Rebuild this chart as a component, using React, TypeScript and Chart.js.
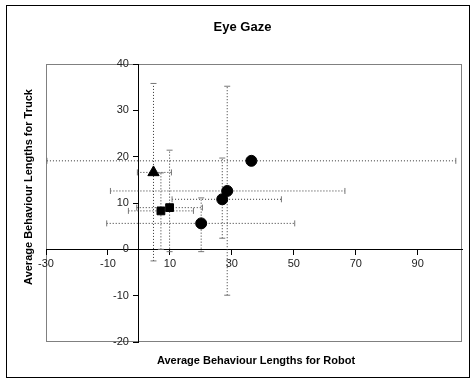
import { useEffect, useRef } from "react";
import { Chart, registerables } from "chart.js";

Chart.register(...registerables);

const chartTitle = "Eye Gaze";
const xAxisTitle = "Average Behaviour Lengths for Robot";
const yAxisTitle = "Average Behaviour Lengths for Truck";

const xTickValues = [-30, -10, 10, 30, 50, 70, 90];
const yTickValues = [-20, -10, 0, 10, 20, 30, 40];

// Series 1: circles
const circleX = [20.1, 26.9, 28.5, 36.3];
const circleY = [5.6, 10.8, 12.6, 19.1];
const circleXLow = [-10.4, 10.7, -9.2, -29.7];
const circleXHigh = [50.3, 46.0, 66.5, 102.3];
const circleYLow = [-0.5, 2.4, -9.9, 19.1];
const circleYHigh = [11.1, 19.7, 35.2, 19.1];

// Series 2: squares
const squareX = [7.1, 9.9];
const squareY = [8.3, 9.0];
const squareXLow = [-3.4, -0.7];
const squareXHigh = [17.6, 20.5];
const squareYLow = [0.0, -0.5];
const squareYHigh = [16.5, 21.4];

// Series 3: triangle
const triangleX = [4.7];
const triangleY = [16.6];
const triangleXLow = [-0.5];
const triangleXHigh = [10.5];
const triangleYLow = [-2.5];
const triangleYHigh = [35.8];

const FONT = '"Liberation Sans", Arial, sans-serif';

function errorBarDatasets(
  xs: number[], ys: number[],
  xl: number[], xh: number[], yl: number[], yh: number[]
) {
  const out: any[] = [];
  xs.forEach((x, i) => {
    const y = ys[i];
    if (xh[i] !== xl[i]) {
      out.push({
        data: [{ x: xl[i], y }, { x: xh[i], y }],
        showLine: true,
        borderColor: "#333",
        borderWidth: 1,
        borderDash: [1, 2],
        pointStyle: "line",
        pointRadius: 3,
        pointRotation: 90,
        pointBorderColor: "#777",
        pointBorderWidth: 1,
        clip: false,
      });
    }
    if (yh[i] !== yl[i]) {
      out.push({
        data: [{ x, y: yl[i] }, { x, y: yh[i] }],
        showLine: true,
        borderColor: "#333",
        borderWidth: 1,
        borderDash: [1, 2],
        pointStyle: "line",
        pointRadius: 3,
        pointRotation: 0,
        pointBorderColor: "#777",
        pointBorderWidth: 1,
        clip: false,
      });
    }
  });
  return out;
}

const decor = {
  id: "decor",
  beforeDraw(chart: any) {
    const { ctx, chartArea } = chart;
    const { left, top, right, bottom } = chartArea;
    ctx.save();
    ctx.fillStyle = "#fff";
    ctx.fillRect(0, 0, chart.width, chart.height);
    ctx.strokeStyle = "#000";
    ctx.lineWidth = 1;
    ctx.strokeRect(6.5, 5.5, 463, 372);
    ctx.strokeStyle = "#808080";
    ctx.strokeRect(left + 0.5, top + 0.5, right - left - 1, bottom - top - 1);
    ctx.fillStyle = "#000";
    ctx.textAlign = "center";
    ctx.textBaseline = "middle";
    ctx.font = `bold 13px ${FONT}`;
    ctx.fillText(chartTitle, 242.5, 27);
    ctx.font = `bold 11px ${FONT}`;
    ctx.fillText(xAxisTitle, 256, 361);
    ctx.translate(29, 187);
    ctx.rotate(-Math.PI / 2);
    ctx.fillText(yAxisTitle, 0, 0);
    ctx.restore();
  },
};

export default function App() {
  const ref = useRef<HTMLCanvasElement | null>(null);
  useEffect(() => {
    document.body.style.margin = "0";
    const canvas = ref.current!;
    const markerBase = {
      showLine: false,
      backgroundColor: "#000",
      borderColor: "#000",
      borderWidth: 1,
    };
    const chart = new Chart(canvas, {
      type: "scatter",
      data: {
        datasets: [
          {
            ...markerBase,
            data: circleX.map((x, i) => ({ x, y: circleY[i] })),
            pointStyle: "circle",
            pointRadius: 5.5,
          },
          {
            ...markerBase,
            data: squareX.map((x, i) => ({ x, y: squareY[i] })),
            pointStyle: "rect",
            pointRadius: 5.5,
          },
          {
            ...markerBase,
            data: triangleX.map((x, i) => ({ x, y: triangleY[i] })),
            pointStyle: "triangle",
            pointRadius: 6.5,
          },
          ...errorBarDatasets(circleX, circleY, circleXLow, circleXHigh, circleYLow, circleYHigh),
          ...errorBarDatasets(squareX, squareY, squareXLow, squareXHigh, squareYLow, squareYHigh),
          ...errorBarDatasets(triangleX, triangleY, triangleXLow, triangleXHigh, triangleYLow, triangleYHigh),
        ] as any,
      },
      options: {
        responsive: false,
        animation: false,
        events: [],
        layout: { padding: { left: 46, top: 64, right: 13, bottom: 37 } },
        plugins: {
          legend: { display: false },
          tooltip: { enabled: false },
          title: { display: false },
        },
        scales: {
          x: {
            type: "linear",
            min: -30,
            max: 104.3,
            position: { y: 0 } as any,
            afterBuildTicks: (s: any) => {
              s.ticks = xTickValues.map((v) => ({ value: v }));
            },
            grid: {
              display: true,
              drawOnChartArea: false,
              drawTicks: true,
              tickLength: 5,
              color: "#000",
            },
            border: { display: true, color: "#000", width: 1 },
            ticks: {
              color: "#222",
              font: { family: FONT, size: 11 },
              padding: 3,
              maxRotation: 0,
              autoSkip: false,
            },
          },
          y: {
            type: "linear",
            min: -20,
            max: 40,
            position: { x: 0 } as any,
            afterBuildTicks: (s: any) => {
              s.ticks = yTickValues.map((v) => ({ value: v }));
            },
            afterUpdate: (s: any) => {
              // shift labels left of the crossing axis (tick length + padding)
              const proto = Object.getPrototypeOf(s);
              s._computeLabelItems = function (ca: any) {
                const items = proto._computeLabelItems.call(this, ca);
                for (const it of items) it.options.translation[0] -= 10;
                return items;
              };
              s._labelItems = null;
            },
            grid: {
              display: true,
              drawOnChartArea: false,
              drawTicks: true,
              tickLength: 5,
              color: "#000",
            },
            border: { display: true, color: "#000", width: 1 },
            ticks: {
              color: "#222",
              font: { family: FONT, size: 11 },
              padding: 5,
              autoSkip: false,
            },
          },
        },
      },
      plugins: [decor],
    });
    return () => chart.destroy();
  }, []);
  return (
    <canvas
      ref={ref}
      width={475}
      height={379}
      style={{ display: "block", width: 475, height: 379 }}
    />
  );
}
